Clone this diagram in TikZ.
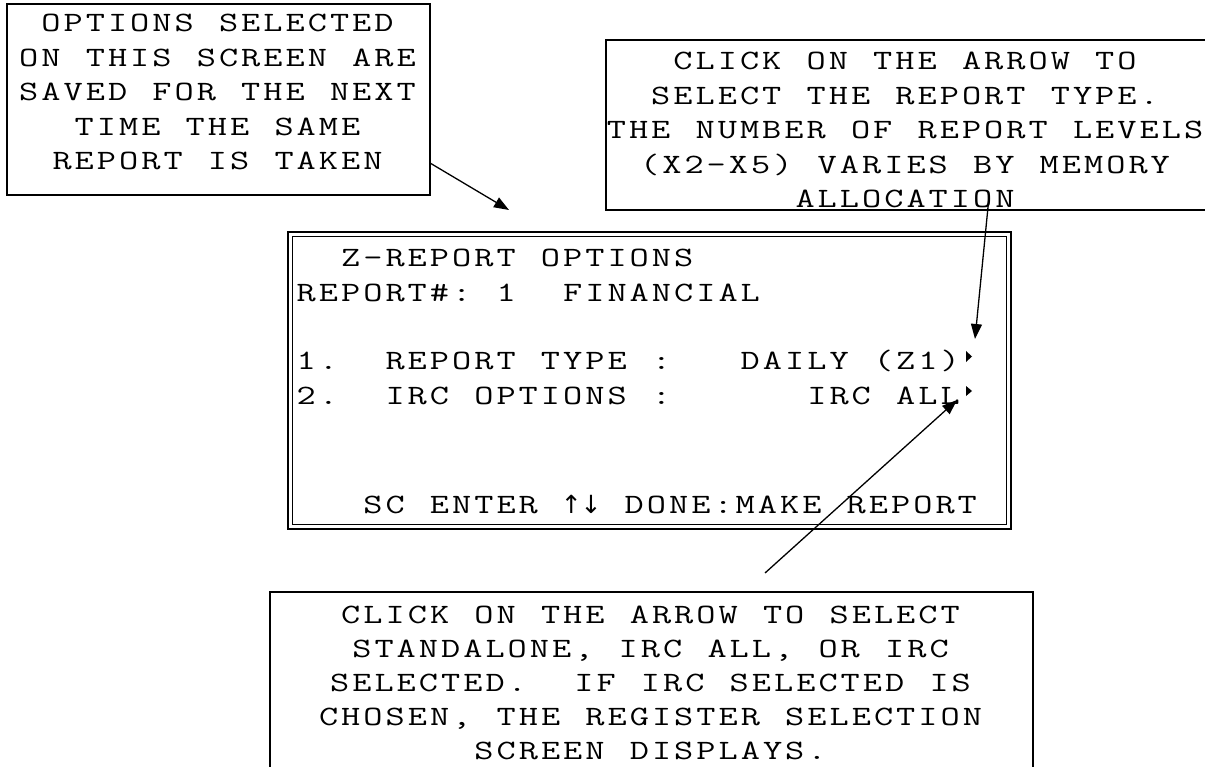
\documentclass[tikz,border=0pt]{standalone}
\usepackage{fontspec}
\usepackage{graphicx}
\usetikzlibrary{arrows.meta}
\newfontfamily\arwfont{DejaVu Sans}
\makeatletter
\newcommand\scrmono{\ttfamily\fontsize{28}{34.5}\selectfont}
\newlength\chadv \setlength\chadv{22.2pt}
\newcommand\spaced[1]{\@tfor\sp@ch:=#1\do{\makebox[\chadv][c]{\scalebox{1.33}[1]{\sp@ch}}}}
\newcommand\arw[1]{\makebox[19.7pt][c]{\arwfont\fontsize{25}{30}\selectfont #1}}
\makeatother
\begin{document}
\begin{tikzpicture}[x=1pt,y=-1pt,
  frame/.style={draw, line width=1.8pt, inner sep=0pt},
  dframe/.style={draw, line width=1.5pt, inner sep=0pt},
  calltext/.style={inner sep=0pt, anchor=base, font=\scrmono},
  scrline/.style={inner sep=0pt, anchor=base west, font=\scrmono},
  pointer/.style={line width=1.3pt, -{Triangle[length=15pt,width=11pt]}}]
\useasboundingbox (0,0) rectangle (1205,767);

% callout frames
\node[frame, minimum width=423pt, minimum height=191pt] (box1) at (218.5,99.5) {};
\node[frame, minimum width=604pt, minimum height=170pt] (box2) at (908,125) {};
\node[frame, minimum width=763pt, minimum height=198pt] (box3) at (651.5,691) {};

% screen frame (double line)
\node[dframe, minimum width=723pt, minimum height=297pt] (scrout) at (649.5,380.5) {};
\node[dframe, minimum width=714pt, minimum height=288pt] (scrin) at (649.5,380.5) {};

% callout texts
\node[calltext] (t1) at (217.5,32) {\begin{tabular}[t]{@{}c@{}}
\spaced{OPTIONS~SELECTED}\\
\spaced{ON~THIS~SCREEN~ARE}\\
\spaced{SAVED~FOR~THE~NEXT}\\
\spaced{TIME~THE~SAME}\\
\spaced{REPORT~IS~TAKEN}
\end{tabular}};

\node[calltext] (t2) at (905,70) {\begin{tabular}[t]{@{}c@{}}
\spaced{CLICK~ON~THE~ARROW~TO}\\
\spaced{SELECT~THE~REPORT~TYPE.}\\
\spaced{THE~NUMBER~OF~REPORT~LEVELS}\\
\spaced{(X2-X5)~VARIES~BY~MEMORY}\\
\spaced{ALLOCATION}
\end{tabular}};

\node[calltext] (t3) at (650.5,623) {\renewcommand\arraystretch{0.9855}\begin{tabular}[t]{@{}c@{}}
\spaced{CLICK~ON~THE~ARROW~TO~SELECT}\\
\spaced{STANDALONE,~IRC~ALL,~OR~IRC}\\
\spaced{SELECTED.~~IF~IRC~SELECTED~IS}\\
\spaced{CHOSEN,~THE~REGISTER~SELECTION}\\
\spaced{SCREEN~DISPLAYS.}
\end{tabular}};

% screen lines
\node[scrline] (s0) at (295,267) {\spaced{~~Z-REPORT~OPTIONS}};
\node[scrline] (s1) at (295,302) {\spaced{REPORT\#:~1~~FINANCIAL}};
\node[scrline] (s3) at (295,370) {\spaced{1.~~REPORT~TYPE~:~~~DAILY~(Z1)}};
\node[scrline] (s4) at (295,404) {\spaced{2.~~IRC~OPTIONS~:~~~~~~IRC~ALL}};
\node[scrline] (s7) at (295,513) {\spaced{~~~SC~ENTER~}\arw{↑}\arw{↓}\spaced{~DONE:MAKE~REPORT}};

% selection markers
\fill (966,351) -- (966,362) -- (972,356.5) -- cycle;
\fill (966,386) -- (966,396) -- (972,391) -- cycle;

% pointers
\coordinate (a1s) at (430,163);
\coordinate (a1e) at (509,210);
\coordinate (a2s) at (989,197);
\coordinate (a2e) at (975,339);
\coordinate (a3s) at (765,573);
\coordinate (a3e) at (957,400);
\draw[pointer] (a1s) -- (a1e);
\draw[pointer] (a2s) -- (a2e);
\draw[pointer] (a3s) -- (a3e);
\end{tikzpicture}
\end{document}
